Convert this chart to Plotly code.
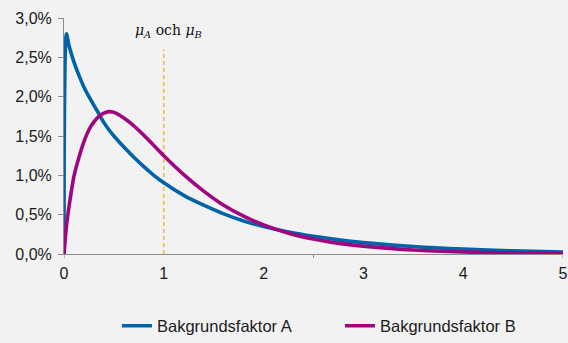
import plotly.graph_objects as go

x_vals = [0, 0.025, 0.05, 0.1, 0.15, 0.2, 0.25, 0.3, 0.35, 0.4, 0.45, 0.5, 0.6, 0.7,
          0.8, 0.9, 1.0, 1.2, 1.4, 1.6, 1.8, 2.0, 2.25, 2.5, 2.75, 3.0, 3.5, 4.0, 4.5, 5.0]
series_a = [0, 2.80, 2.65, 2.44, 2.27, 2.12, 2.00, 1.89, 1.78, 1.67, 1.58, 1.50, 1.36, 1.23,
            1.11, 1.00, 0.905, 0.745, 0.62, 0.51, 0.42, 0.35, 0.28, 0.225, 0.18, 0.145, 0.095,
            0.062, 0.04, 0.026]
series_b = [0, 0.36, 0.60, 0.99, 1.23, 1.43, 1.58, 1.68, 1.75, 1.79, 1.81, 1.80, 1.73, 1.63,
            1.51, 1.38, 1.25, 1.01, 0.80, 0.62, 0.48, 0.37, 0.265, 0.19, 0.135, 0.10, 0.05,
            0.025, 0.013, 0.006]
name_a = "Bakgrundsfaktor A"
name_b = "Bakgrundsfaktor B"
mu_x = [1, 1]
mu_y = [0, 2.6]
mu_label = "<i>μ</i><sub><i>A</i></sub> och <i>μ</i><sub><i>B</i></sub>"
x_ticks = [0, 1, 2, 3, 4, 5]
x_marks = [0, 2.5, 5]
y_ticks = [0, 0.5, 1.0, 1.5, 2.0, 2.5, 3.0]
y_labels = ["0,0%", "0,5%", "1,0%", "1,5%", "2,0%", "2,5%", "3,0%"]

BLUE = "#0063A8"
MAGENTA = "#A0047F"
GOLD = "#F2B01E"

fig = go.Figure()
fig.add_trace(go.Scatter(x=mu_x, y=mu_y, mode="lines", showlegend=False,
                         line=dict(color=GOLD, width=1.3, dash="4px,3px"), hoverinfo="skip"))
fig.add_trace(go.Scatter(x=x_vals, y=series_a, mode="lines", name=name_a,
                         line=dict(color=BLUE, width=3.6, shape="spline", smoothing=0.8)))
fig.add_trace(go.Scatter(x=x_vals, y=series_b, mode="lines", name=name_b,
                         line=dict(color=MAGENTA, width=3.6, shape="spline", smoothing=0.8)))

for v in x_marks:
    fig.add_shape(type="line", xref="x", yref="paper", x0=v, x1=v, y0=0, y1=-0.018,
                  line=dict(color="#8C8C8C", width=1))

fig.add_annotation(x=1, y=3.0, xref="x", yref="y", text=mu_label, showarrow=False,
                   yanchor="top", yshift=-2, xshift=5,
                   font=dict(family="DejaVu Serif", size=14, color="#111111"))

fig.update_layout(
    width=568, height=343,
    margin=dict(l=64, r=5, t=18, b=89, autoexpand=False),
    paper_bgcolor="#F2F2F2", plot_bgcolor="#F2F2F2",
    font=dict(family="Liberation Sans", size=16, color="#1A1A1A"),
    legend=dict(orientation="h", x=0.553, xanchor="center", y=-0.305, yanchor="middle",
                font=dict(size=16.5), itemwidth=30, entrywidth=178),
    xaxis=dict(range=[0, 5], tickvals=x_ticks, ticks="", showgrid=False, zeroline=False,
               showline=True, linecolor="#8C8C8C", linewidth=1, ticklabelstandoff=5,
               ticklabeloverflow="allow", automargin=False),
    yaxis=dict(range=[0, 3.0], tickvals=y_ticks, ticktext=y_labels,
               ticks="outside", ticklen=5, tickcolor="#8C8C8C", showgrid=False,
               zeroline=False, showline=True, linecolor="#8C8C8C", linewidth=1,
               ticklabelstandoff=3, automargin=False),
)

fig.write_html("out.html", config={"displayModeBar": False},
               post_script="document.body.style.margin='0';")
